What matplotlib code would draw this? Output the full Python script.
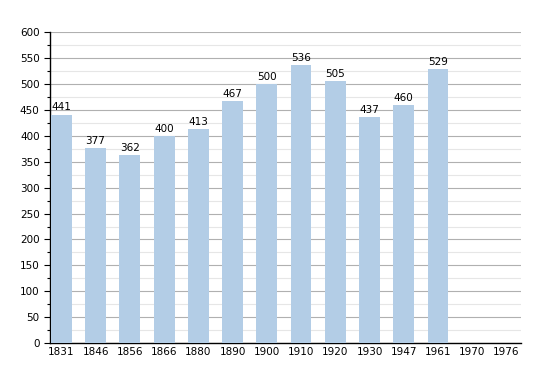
import matplotlib.pyplot as plt
from matplotlib.ticker import MultipleLocator

years = ["1831", "1846", "1856", "1866", "1880", "1890", "1900",
         "1910", "1920", "1930", "1947", "1961", "1970", "1976"]
population = [441, 377, 362, 400, 413, 467, 500, 536, 505, 437, 460, 529, None, None]

fig = plt.figure(figsize=(5.5, 3.73), dpi=100)
ax = fig.add_axes([0.091, 0.080, 0.856, 0.834])

x = list(range(len(years)))
for i, v in enumerate(population):
    if v is None:
        continue
    ax.bar(i, v, width=0.61, color="#b3cde6", zorder=3)
    ax.text(i, v + 4, str(v), ha="center", va="bottom", fontsize=7.5, zorder=4)

ax.set_xticks(x)
ax.set_xticklabels(years, fontsize=7.5)
ax.set_xlim(-0.33, 13.42)
ax.set_ylim(0, 600)
ax.yaxis.set_major_locator(MultipleLocator(50))
ax.yaxis.set_minor_locator(MultipleLocator(25))
ax.tick_params(axis="y", labelsize=7.5, length=4, width=0.8)
ax.tick_params(axis="y", which="minor", length=2, width=0.8)
ax.tick_params(axis="x", length=0, pad=3)
# gridlines: darker every 50, faint every 25
ax.grid(axis="y", which="major", color="#b0b0b0", linewidth=0.8, zorder=0)
ax.grid(axis="y", which="minor", color="#e6e6e6", linewidth=0.8, zorder=0)
for s in ["top", "right"]:
    ax.spines[s].set_visible(False)
ax.spines["left"].set_linewidth(1.0)
ax.spines["bottom"].set_linewidth(1.0)

fig.savefig("out.png")
